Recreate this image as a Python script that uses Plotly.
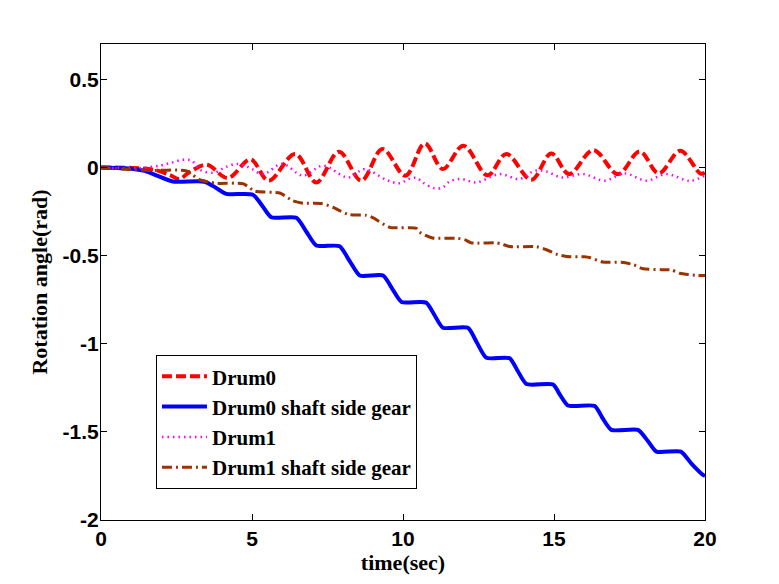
import plotly.graph_objects as go

# ---- data ----
drum0_shaft_t = [0, 0.8, 1.45, 1.9, 2.38, 3.43, 3.8, 4.15, 5.03, 5.35, 5.64, 6.47, 6.8, 7.13,
                 7.90, 8.23, 8.57, 9.34, 9.65, 9.95, 10.77, 11.05, 11.32, 12.15, 12.45, 12.76,
                 13.53, 13.8, 14.09, 14.97, 15.2, 15.46, 16.35, 16.6, 16.9, 17.78, 18.1, 18.39,
                 19.2, 19.55, 19.93, 20]
drum0_shaft_v = [0, -0.005, -0.02, -0.05, -0.08, -0.081, -0.115, -0.15, -0.155, -0.22, -0.283,
                 -0.286, -0.365, -0.443, -0.447, -0.53, -0.613, -0.613, -0.69, -0.763, -0.767,
                 -0.84, -0.909, -0.91, -0.995, -1.080, -1.082, -1.155, -1.229, -1.232, -1.29,
                 -1.350, -1.353, -1.42, -1.489, -1.489, -1.55, -1.612, -1.612, -1.68, -1.744, -1.75]

drum1_shaft_t = [0, 0.8, 1.6, 2.83, 3.27, 3.82, 4.7, 5.1, 5.92, 6.36, 6.69, 7.3, 7.68, 7.9,
                 8.23, 8.79, 9.0, 9.56, 10.44, 10.55, 10.98, 11.81, 12.04, 12.26, 13.1, 13.26,
                 13.53, 14.42, 14.75, 15.12, 15.41, 16.0, 16.2, 16.62, 17.23, 17.6, 17.95,
                 18.56, 18.89, 19.16, 19.76, 20]
drum1_shaft_v = [0, -0.01, -0.017, -0.02, -0.07, -0.09, -0.092, -0.135, -0.145, -0.19, -0.203,
                 -0.205, -0.226, -0.245, -0.268, -0.272, -0.285, -0.34, -0.345, -0.368, -0.40,
                 -0.402, -0.41, -0.428, -0.428, -0.434, -0.449, -0.45, -0.467, -0.494, -0.505,
                 -0.507, -0.512, -0.537, -0.538, -0.55, -0.575, -0.58, -0.582, -0.6, -0.613, -0.613]

drum0_t = [0, 1.0, 1.8, 2.3, 2.6, 2.9, 3.5, 4.2, 4.95, 5.55, 6.43, 7.13, 7.88, 8.62, 9.32,
           10.08, 10.72, 11.32, 12.0, 12.8, 13.42, 14.25, 14.91, 15.5, 16.3, 17.12, 17.84,
           18.47, 19.18, 19.85, 20]
drum0_v = [0, -0.003, -0.015, -0.045, -0.066, -0.03, 0.015, -0.06, 0.045, -0.075, 0.076,
           -0.085, 0.089, -0.075, 0.104, -0.047, 0.136, -0.009, 0.123, -0.045, 0.076, -0.07,
           0.079, -0.038, 0.098, -0.038, 0.09, -0.034, 0.094, -0.035, -0.03]

drum1_t = [0, 1.0, 1.5, 2.0, 2.35, 2.7, 3.0, 3.3, 3.75, 4.1, 4.5, 4.9, 5.36, 6.0, 6.69, 7.35,
           8.18, 8.73, 9.45, 9.89, 10.2, 10.45, 10.65, 11.05, 11.32, 11.55, 11.93, 12.43,
           13.2, 13.86, 14.36, 14.75, 15.25, 15.96, 16.68, 17.33, 18.06, 18.72, 19.5, 20]
drum1_v = [0, -0.005, 0.0, 0.012, 0.028, 0.043, 0.038, -0.015, -0.03, 0.0, 0.02, 0.0, -0.038,
           0.02, -0.047, 0.01, -0.057, -0.01, -0.071, -0.09, -0.065, -0.06, -0.085, -0.118,
           -0.113, -0.079, -0.066, -0.085, -0.038, -0.066, -0.019, -0.023, -0.057, -0.038,
           -0.075, -0.034, -0.075, -0.038, -0.076, -0.045]

x_ticks = [0, 5, 10, 15, 20]
x_tick_labels = ["0", "5", "10", "15", "20"]
y_ticks = [-2, -1.5, -1, -0.5, 0, 0.5]
y_tick_labels = ["-2", "-1.5", "-1", "-0.5", "0", "0.5"]

series_names = ["Drum0", "Drum0 shaft side gear", "Drum1", "Drum1 shaft side gear"]

fig = go.Figure()
fig.add_trace(go.Scatter(x=drum0_t, y=drum0_v, mode="lines", name=series_names[0],
                         line=dict(color="#FF0000", width=4, dash="10px,4px", shape="spline", smoothing=1.0)))
fig.add_trace(go.Scatter(x=drum0_shaft_t, y=drum0_shaft_v, mode="lines", name=series_names[1],
                         line=dict(color="#0000FF", width=4, shape="spline", smoothing=0.6)))
fig.add_trace(go.Scatter(x=drum1_t, y=drum1_v, mode="lines", name=series_names[2],
                         line=dict(color="#FF00FF", width=2.5, dash="1.5px,4px", shape="spline", smoothing=1.0)))
fig.add_trace(go.Scatter(x=drum1_shaft_t, y=drum1_shaft_v, mode="lines", name=series_names[3],
                         line=dict(color="#993300", width=3, dash="10px,4px,2px,4px", shape="spline", smoothing=0.6)))

axis_common = dict(showline=True, linecolor="black", linewidth=1, mirror="ticks",
                   ticks="inside", ticklen=6, tickcolor="black", showgrid=False, zeroline=False,
                   tickfont=dict(family="Liberation Sans", size=21, color="black", weight="bold"))

fig.update_xaxes(range=[0, 20], tickvals=x_ticks, ticktext=x_tick_labels,
                 title=dict(text="time(sec)", standoff=0,
                            font=dict(family="Liberation Serif", size=22, color="black", weight="bold")),
                 **axis_common)
fig.update_yaxes(range=[-2, 0.7], tickvals=y_ticks, ticktext=y_tick_labels,
                 ticklabelstandoff=-3,
                 title=dict(text="Rotation angle(rad)", standoff=8,
                            font=dict(family="Liberation Serif", size=22, color="black", weight="bold")),
                 **axis_common)

fig.update_layout(
    width=779, height=584,
    margin=dict(l=101, r=74, t=44, b=64),
    paper_bgcolor="white", plot_bgcolor="white",
    showlegend=True,
    legend=dict(x=0.091, y=0.3463, xanchor="left", yanchor="top",
                bordercolor="black", borderwidth=1, bgcolor="white",
                font=dict(family="Liberation Serif", size=21, color="black", weight="bold"),
                tracegroupgap=0, itemwidth=45, entrywidth=245),
)

fig.write_html("out.html", config={"displayModeBar": False},
               post_script="document.body.style.margin='0';")
